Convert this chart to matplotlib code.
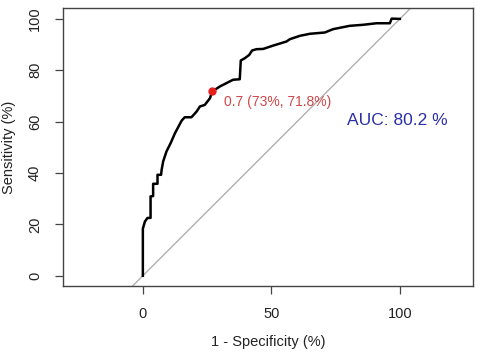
import matplotlib
matplotlib.use("Agg")
import matplotlib.pyplot as plt

plt.rcParams["font.family"] = ["Liberation Sans", "DejaVu Sans"]

# ROC curve (1 - specificity %, sensitivity %)
fpr = [0, 0, 0.8, 1.8, 3.0, 3.0, 4.0, 4.0, 5.7, 5.7, 7.1, 7.3, 7.9, 9.2, 10.8,
       12.5, 15.1, 16.3, 18.9, 20.9, 22.2, 24.1, 26.1, 27.0, 28.0, 30.0,
       35.1, 37.7, 38.1, 39.7, 41.4, 42.5, 44.2, 46.8, 50.7, 55.9, 57.2,
       61.1, 65.0, 70.8, 74.0, 80.5, 85.7, 90.9, 96.1, 96.8, 100]
tpr = [0, 18.3, 21.1, 22.5, 22.5, 30.9, 31.0, 35.8, 35.8, 39.3, 39.3, 41.2,
       44.5, 48.4, 51.6, 55.5, 60.4, 61.7, 61.7, 63.9, 65.9, 66.5, 69.1, 71.8,
       72.4, 73.7, 76.3, 76.5, 83.8, 84.7, 86.0, 87.7, 88.2, 88.3, 89.6, 91.2,
       92.1, 93.4, 94.2, 94.7, 96.0, 97.3, 97.7, 98.3, 98.3, 100.1, 100]

best_x, best_y = 27.0, 71.8
best_label = "0.7 (73%, 71.8%)"
auc_label = "AUC: 80.2 %"

fig = plt.figure(figsize=(4.84, 3.52), dpi=100)
ax = fig.add_axes([0.130, 0.1875, 0.847, 0.7895])

ax.axline((0, 0), (100, 100), color="#b0b0b0", lw=1.0, zorder=1)
ax.plot(fpr, tpr, color="black", lw=1.8, zorder=2)
ax.plot([best_x], [best_y], "o", color="#e8201c", ms=5, zorder=3)

ax.text(31.5, 67.7, best_label, color="#d0474a", fontsize=10,
        ha="left", va="center")
ax.text(99, 60.3, auc_label, color="#2b2fa8", fontsize=12.5,
        ha="center", va="center")

ax.set_xlim(-31.1, 128.4)
ax.set_ylim(-4, 104.2)
ax.set_xticks([0, 50, 100])
ax.set_yticks([0, 20, 40, 60, 80, 100])
ax.tick_params(length=6, width=0.9, color="#444444", labelsize=10.5,
               labelcolor="#222222", pad=9)
for lab in ax.get_yticklabels():
    lab.set_rotation(90)
    lab.set_va("center")
for sp in ax.spines.values():
    sp.set_color("#444444")
    sp.set_linewidth(1.0)

ax.set_xlabel("1 - Specificity (%)", fontsize=10.5, color="#222222", labelpad=10)
ax.set_ylabel("Sensitivity (%)", fontsize=10.5, color="#222222", labelpad=9)

fig.savefig("out.png", dpi=100)
